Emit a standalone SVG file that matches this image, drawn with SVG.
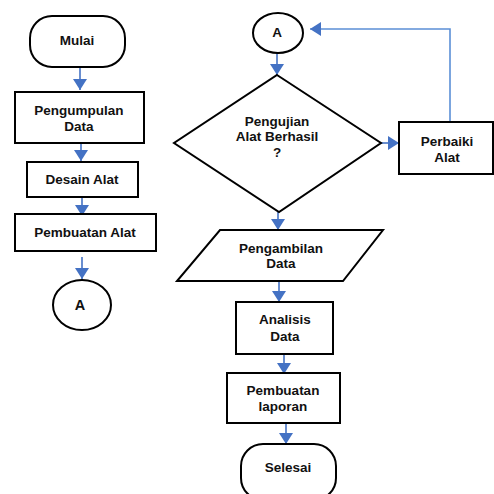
<svg xmlns="http://www.w3.org/2000/svg" width="494" height="494" viewBox="0 0 494 494">
<style>
.n{fill:#fff;stroke:#000;stroke-width:2}
.t{font-family:"Liberation Sans",Arial,sans-serif;font-weight:bold;font-size:13.5px;fill:#111;text-anchor:middle}
.c{fill:none;stroke:#4472C4;stroke-width:1.6}
.f{fill:none;stroke:#5B8FD6;stroke-width:1.6}
</style>
<defs>
<marker id="ah" markerUnits="userSpaceOnUse" markerWidth="12" markerHeight="14" refX="11" refY="7" orient="auto">
<path d="M0,0 L11,7 L0,14 Z" fill="#4472C4"/>
</marker>
</defs>
<rect width="494" height="494" fill="#fff"/>
<g id="connectors">
<line class="c" x1="80" y1="67" x2="80" y2="90" marker-end="url(#ah)"/>
<line class="c" x1="81" y1="143" x2="81" y2="161" marker-end="url(#ah)"/>
<line class="c" x1="82" y1="197" x2="82" y2="216" marker-end="url(#ah)"/>
<line class="c" x1="82" y1="257" x2="82" y2="279" marker-end="url(#ah)"/>
<line class="c" x1="277" y1="53" x2="277" y2="75" marker-end="url(#ah)"/>
<line class="c" x1="381" y1="143" x2="399" y2="143" marker-end="url(#ah)"/>
<polyline class="f" points="450,122 450,29 310,29" marker-end="url(#ah)"/>
<line class="c" x1="278" y1="212" x2="278" y2="230" marker-end="url(#ah)"/>
<line class="c" x1="279" y1="281" x2="279" y2="302" marker-end="url(#ah)"/>
<line class="c" x1="284" y1="354" x2="284" y2="374" marker-end="url(#ah)"/>
<line class="c" x1="286" y1="423" x2="286" y2="444" marker-end="url(#ah)"/>
</g>
<g id="mulai"><rect class="n" x="30" y="16" width="95" height="51" rx="22"/><text class="t" x="77" y="45">Mulai</text></g>
<g id="pengumpulan"><rect class="n" x="15" y="92" width="129" height="51"/><text class="t" x="79" y="115">Pengumpulan</text><text class="t" x="79" y="131">Data</text></g>
<g id="desain"><rect class="n" x="27" y="162" width="111" height="35"/><text class="t" x="82" y="184">Desain Alat</text></g>
<g id="pembuatan-alat"><rect class="n" x="15" y="214" width="141" height="37"/><text class="t" x="85" y="237">Pembuatan Alat</text></g>
<g id="a1"><ellipse class="n" cx="82" cy="305" rx="29" ry="25"/><text class="t" x="80" y="310" style="font-size:14.5px">A</text></g>
<g id="a2"><ellipse class="n" cx="278" cy="33" rx="25" ry="20"/><text class="t" x="277" y="37">A</text></g>
<g id="pengujian"><polygon class="n" points="277,75 381,143 279,212 174,143"/><text class="t" x="277" y="126">Pengujian</text><text class="t" x="277" y="141">Alat Berhasil</text><text class="t" x="277" y="157">?</text></g>
<g id="perbaiki"><rect class="n" x="399" y="122" width="94" height="52"/><text class="t" x="447" y="146">Perbaiki</text><text class="t" x="447" y="162">Alat</text></g>
<g id="pengambilan"><polygon class="n" points="220,230 383,230 343,281 177,281"/><text class="t" x="281" y="253">Pengambilan</text><text class="t" x="281" y="268">Data</text></g>
<g id="analisis"><rect class="n" x="236" y="302" width="97" height="52"/><text class="t" x="285" y="324">Analisis</text><text class="t" x="285" y="341">Data</text></g>
<g id="laporan"><rect class="n" x="227" y="373" width="113" height="50"/><text class="t" x="283" y="395">Pembuatan</text><text class="t" x="283" y="411">laporan</text></g>
<g id="selesai"><rect class="n" x="241" y="444" width="95" height="56" rx="22"/><text class="t" x="288" y="472">Selesai</text></g>
</svg>
